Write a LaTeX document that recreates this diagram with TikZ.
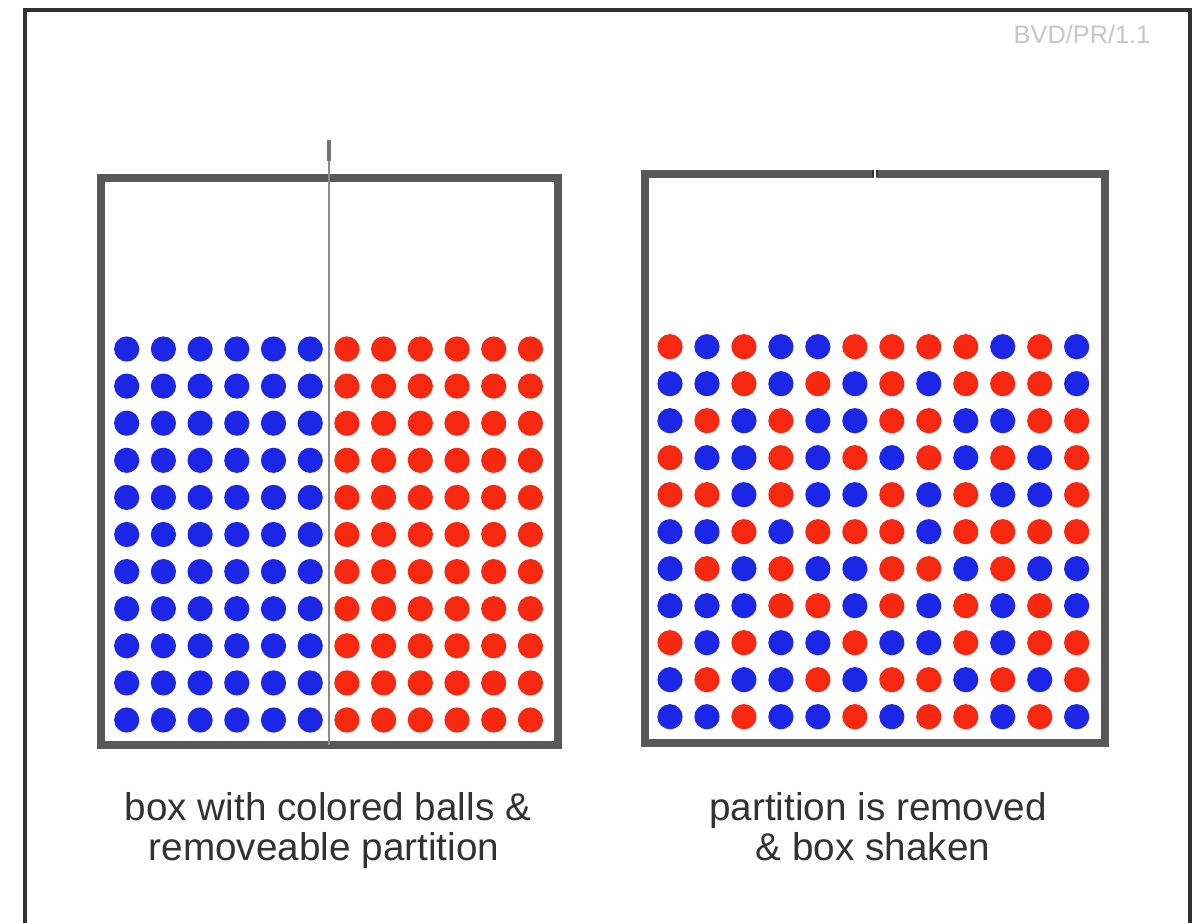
\documentclass[tikz,border=0pt]{standalone}
\usepackage{fontspec}
\setmainfont{Liberation Sans}
\definecolor{ballb}{RGB}{28,38,230}
\definecolor{ballr}{RGB}{246,40,16}
\definecolor{framegray}{RGB}{88,88,88}
\definecolor{textgray}{RGB}{50,50,50}
\definecolor{outergray}{RGB}{50,50,50}
\begin{document}
\begin{tikzpicture}[x=0.75pt,y=-0.75pt,
  outerframe/.style={draw=outergray,line width=3pt},
  boxwall/.style={draw=framegray,line width=5.4pt},
  partitionline/.style={draw=black!45,line width=1.5pt},
  handle/.style={draw=black!55,line width=3pt},
  notch/.style={draw=black!80,line width=1.5pt},
  lbl/.style={anchor=base,text=textgray,font=\fontsize{29}{35}\selectfont},
  wmark/.style={anchor=base,text=black!22,font=\fontsize{19}{22}\selectfont}
]
\useasboundingbox (0,0) rectangle (1195,923);
\fill[white] (0,0) rectangle (1195,923);
% outer frame (left, top, right)
\draw[outerframe] (24.5,923) -- (24.5,10) -- (1190,10) -- (1190,923);
\node[wmark] (code) at (1082,44) {BVD/PR/1.1};

% ---- left box ----
\foreach \r in {0,...,10}{
  \foreach \c in {0,...,11}{
    \ifnum\c<6
      \fill[ballb] ({126.7+36.7*\c},{349+37.1*\r}) circle[radius=12.6];
    \else
      \fill[ballr] ({126.7+36.7*\c},{349+37.1*\r}) circle[radius=12.6];
    \fi
  }
}
\draw[boxwall] (101,178) rectangle (558,745);
\draw[partitionline] (329,160) -- (329,745);
\draw[handle] (329,140) -- (329,161);

% ---- right box ----
\foreach \row [count=\j from 0] in {
  {r,b,r,b,b,r,r,r,r,b,r,b},
  {b,b,r,b,r,b,r,b,r,r,r,b},
  {b,r,b,r,b,b,r,r,b,b,r,r},
  {r,b,b,r,b,r,b,r,b,r,b,r},
  {r,r,b,r,b,b,r,b,r,b,b,r},
  {b,b,r,b,r,r,r,b,r,r,r,r},
  {b,r,b,r,b,b,r,r,b,r,b,b},
  {b,b,b,r,r,b,r,b,r,b,r,b},
  {r,b,r,b,b,r,b,b,r,b,r,r},
  {b,r,b,b,r,b,r,r,b,r,b,r},
  {b,b,r,b,b,r,b,r,r,b,r,b}}{
  \foreach \col [count=\i from 0] in \row {
    \fill[ball\col] ({670+36.97*\i},{346.7+37*\j}) circle[radius=12.6];
  }
}
\draw[boxwall] (874,174) -- (645,174) -- (645,743) -- (1105,743) -- (1105,174) -- (876,174);
\draw[notch] (873.3,170.5) -- (873.3,177.5);
\draw[notch] (876.7,170.5) -- (876.7,177.5);

% ---- captions ----
\node[lbl] (capL1) at (328,820) {box with colored balls \&};
\node[lbl] (capL2) at (324,860) {removeable partition};
\node[lbl] (capR1) at (878,820) {partition is removed};
\node[lbl] (capR2) at (873,860) {\& box shaken};
\end{tikzpicture}
\end{document}
